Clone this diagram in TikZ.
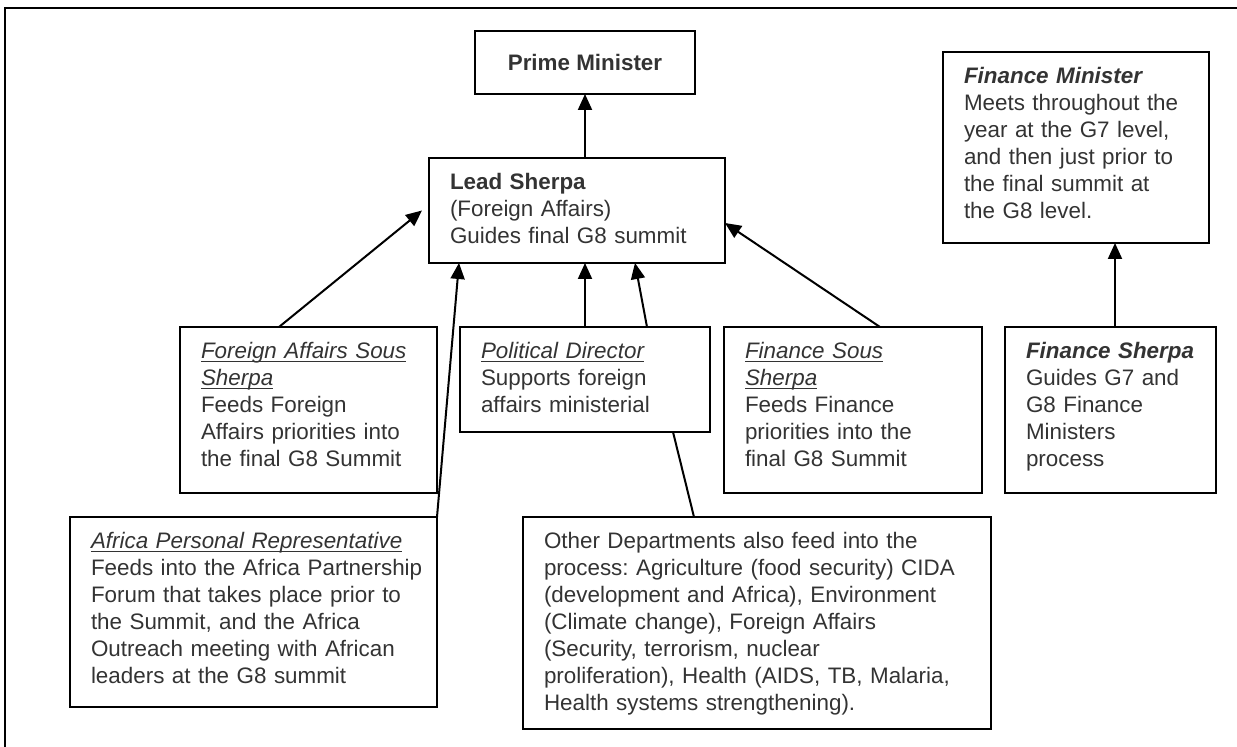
\documentclass[tikz,border=0pt]{standalone}
\usepackage{fontspec}
\setmainfont{Liberation Sans}
\frenchspacing
\usetikzlibrary{arrows.meta}
\newcommand{\ultitle}[1]{\leavevmode\setbox0=\hbox{\itshape #1}\rlap{\rule[-1.7pt]{\wd0}{.6pt}}\box0}
\tikzset{
    panel/.style 2 args = {
        draw,
        line width  = .8pt,
        anchor      = north west,
        inner xsep  = 10.5pt,
        inner ysep  = 0pt,
        outer sep   = 0pt,
        text        = black!80,
        font        = \fontsize{11.2}{13.5}\selectfont,
        text width  = #1,
        text height = 16pt,
        text depth  = #2,
        execute at begin node = {\rightskip=0pt plus 1fil minus 100pt},
    },
    feed/.style = {
        line width = 1pt,
        -{Triangle[length=8pt,width=7pt]},
    }
}

\begin{document}
\begin{tikzpicture}[x=.5pt,y=-.5pt]
  \useasboundingbox (0,0) rectangle (1237,747);
  % Frame
  \draw[line width=1.1pt] (5,747) -- (5,8) -- (1237,8);

  % Top
  \node[draw,line width=.8pt,anchor=north west,outer sep=0pt,
        minimum width=110pt,minimum height=31.5pt,text=black!80,
        font=\fontsize{11.2}{13.5}\selectfont\bfseries] (PM) at (475,31) {Prime Minister};
  \node[panel={127pt}{36.5pt}] (LeadSherpa) at (429,158)
    {\textbf{Lead Sherpa}\\(Foreign Affairs)\\Guides final G8 summit};
  \node[panel={112pt}{79.5pt}] (FinMinister) at (943,52)
    {\textbf{\textit{Finance Minister}}\\Meets throughout the\\year at the G7 level,\\and then just prior to\\the final summit at\\the G8 level.};

  % Middle row
  \node[panel={107.5pt}{67pt}] (ForeignSous) at (180,327)
    {\ultitle{Foreign Affairs Sous}\\\ultitle{Sherpa}\\Feeds Foreign\\Affairs priorities into\\the final G8 Summit};
  \node[panel={104pt}{36.5pt}] (PolDirector) at (460,327)
    {\ultitle{Political Director}\\Supports foreign\\affairs ministerial};
  \node[panel={108pt}{67pt}] (FinanceSous) at (724,327)
    {\ultitle{Finance Sous}\\\ultitle{Sherpa}\\Feeds Finance\\priorities into the\\final G8 Summit};
  \node[panel={84.5pt}{67pt}] (FinSherpa) at (1005,327)
    {\textbf{\textit{Finance Sherpa}}\\Guides G7 and\\G8 Finance\\Ministers\\process};

  % Bottom row
  \node[panel={162.5pt}{79pt}] (AfricaRep) at (70,517)
    {\ultitle{Africa Personal Representative}\\Feeds into the Africa Partnership\\Forum that takes place prior to\\the Summit, and the Africa\\Outreach meeting with African\\leaders at the G8 summit};
  \node[panel={213pt}{90pt}] (OtherDepts) at (523,517)
    {Other Departments also feed into the\\process: Agriculture (food security) CIDA\\(development and Africa), Environment\\(Climate change), Foreign Affairs\\(Security, terrorism, nuclear\\proliferation), Health (AIDS, TB, Malaria,\\Health systems strengthening).};

  % Connectors
  \draw[feed] (LeadSherpa.north -| PM.south) to (PM.south);
  \draw[feed] ([xshift=49.5pt]ForeignSous.north west) to ([xshift=-3.5pt]LeadSherpa.west);
  \draw[feed] (AfricaRep.north east) to ([xshift=15pt]LeadSherpa.south west);
  \draw[feed] (PolDirector.north) to (PolDirector.north |- LeadSherpa.south);
  \draw[feed] ([xshift=-31.5pt]PolDirector.north east) to ([xshift=-45pt]LeadSherpa.south east);
  \draw[feed] ([xshift=78pt]FinanceSous.north west) to ([yshift=-32.5pt]LeadSherpa.north east);
  \draw[feed] ([xshift=55pt]FinSherpa.north west) to ([xshift=19.5pt]FinMinister.south);
  \draw[line width=1pt] ([xshift=-18.5pt]PolDirector.south east) to ([xshift=85.5pt]OtherDepts.north west);

\end{tikzpicture}
\end{document}
